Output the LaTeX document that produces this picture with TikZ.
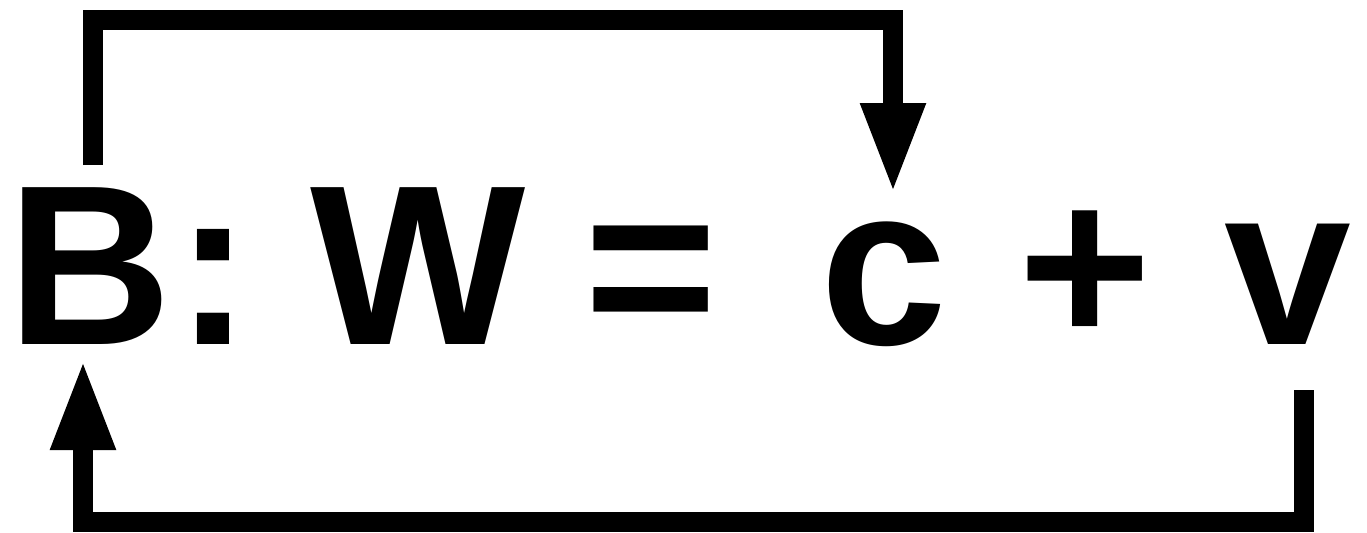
\documentclass[tikz,border=0pt]{standalone}
\usepackage{fontspec}
\setmainfont{Liberation Sans}
\usetikzlibrary{arrows.meta}
\begin{document}
\begin{tikzpicture}[x=0.5pt,y=-0.5pt,
  glyph/.style={inner sep=0pt,outer sep=0pt,anchor=base,text height=81.5pt,text depth=0pt,
    font=\fontsize{114}{120}\selectfont\bfseries},
  flow/.style={line width=10pt,line join=miter,line cap=butt,-{Triangle[width=30pt,length=45pt]}}]
\useasboundingbox (0,0) rectangle (1367,532);
\node[glyph] (B) at (90,344) {B};
\node[glyph] (colon) at (213,344) {:};
\node[glyph] (W) at (418,344) {W};
\node[glyph] (eq) at (651.5,344) {=};
\node[glyph] (c) at (883.5,344) {c};
\node[glyph] (plus) at (1085.5,344) {+};
\node[glyph] (v) at (1288,344) {v};
\draw[flow] ([shift={(3,-16)}]B.north) |- ([shift={(9.5,-161.5)}]c.north) -- ([shift={(9.5,12)}]c.north);
\draw[flow] ([shift={(16,46)}]v.south) -- ([shift={(16,177.5)}]v.south) -| ([shift={(-7,16)}]B.south);
\end{tikzpicture}
\end{document}
